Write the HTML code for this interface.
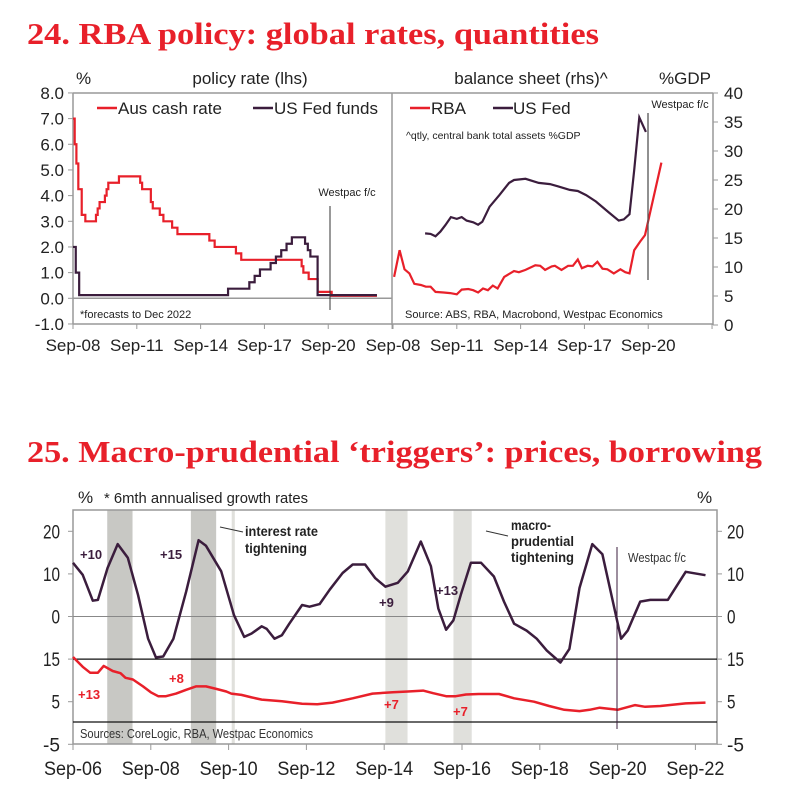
<!DOCTYPE html>
<html><head><meta charset="utf-8"><style>
html,body{margin:0;padding:0;background:#fff;}
svg{display:block;font-family:"Liberation Sans",sans-serif;}
</style></head><body>
<svg id="s" width="786" height="797" viewBox="0 0 786 797">
<text x="27" y="44" font-family="Liberation Serif,serif" font-weight="bold" font-size="31" fill="#e8202a" textLength="572" lengthAdjust="spacingAndGlyphs">24. RBA policy: global rates, quantities</text>
<text x="27" y="462" font-family="Liberation Serif,serif" font-weight="bold" font-size="31" fill="#e8202a" textLength="735" lengthAdjust="spacingAndGlyphs">25. Macro-prudential ‘triggers’: prices, borrowing</text>
<g id="c24"></g>
<g id="c25"></g>
</svg>
<script>
// ---------- Chart 24 data ----------
const cashT=[2008.67,2008.75,2008.83,2008.92,2009.08,2009.25,2009.75,2009.83,2009.92,2010.17,2010.25,2010.33,2010.83,2011.83,2011.92,2012.33,2012.42,2012.75,2012.92,2013.33,2013.58,2015.08,2015.33,2016.33,2016.58,2019.42,2019.5,2019.75,2020.17,2020.83,2022.96];
const cashV=[7.0,6.0,5.25,4.25,3.25,3.0,3.25,3.5,3.75,4.0,4.25,4.5,4.75,4.5,4.25,3.75,3.5,3.25,3.0,2.75,2.5,2.25,2.0,1.75,1.5,1.25,1.0,0.75,0.25,0.1,0.1];
const fedT=[2008.67,2008.8,2008.96,2015.96,2016.96,2017.21,2017.46,2017.96,2018.21,2018.46,2018.71,2018.96,2019.58,2019.71,2019.83,2020.17,2022.96];
const fedV=[2.0,1.0,0.125,0.375,0.625,0.875,1.125,1.375,1.625,1.875,2.125,2.375,2.125,1.875,1.625,0.125,0.125];
const rbaT=[2008.72,2008.98,2009.21,2009.44,2009.67,2009.98,2010.21,2010.44,2010.67,2011.05,2011.36,2011.67,2011.90,2012.21,2012.44,2012.67,2012.90,2013.13,2013.36,2013.59,2013.90,2014.36,2014.59,2014.90,2015.36,2015.59,2015.82,2016.13,2016.28,2016.59,2016.90,2017.13,2017.36,2017.55,2017.82,2018.05,2018.28,2018.52,2018.75,2019.05,2019.36,2019.59,2019.79,2020.01,2020.29,2020.52,2021.29];
const rbaV=[8.3,12.9,9.6,8.9,7.1,6.9,6.6,6.6,5.7,5.6,5.5,5.3,6.1,6.2,6.0,5.6,6.3,6.0,6.8,6.3,8.3,9.3,9.1,9.5,10.3,10.2,9.5,10.1,10.2,9.5,10.2,10.2,11.3,9.8,10.2,10.1,10.9,9.7,9.6,8.9,9.6,9.1,8.9,12.9,14.4,15.5,28];
const usbT=[2010.18,2010.44,2010.67,2010.90,2011.13,2011.39,2011.67,2011.90,2012.13,2012.44,2012.67,2012.87,2013.21,2013.67,2014.13,2014.36,2014.90,2015.52,2016.05,2016.44,2016.98,2017.36,2017.75,2018.21,2018.82,2019.28,2019.52,2019.79,2020.01,2020.25,2020.56];
const usbV=[15.8,15.7,15.3,16.1,17.2,18.6,18.3,18.6,18.0,17.7,17.3,17.8,20.4,22.4,24.5,25.0,25.2,24.5,24.3,23.9,23.3,23.1,22.4,21.3,19.4,18.0,18.2,19.1,26.7,35.8,33.3];
const leftTicks=[8,7,6,5,4,3,2,1,0,-1];
const rightTicks=[40,35,30,25,20,15,10,5,0];
const xLabels24=["Sep-08","Sep-11","Sep-14","Sep-17","Sep-20"];
const xTickYears24=[2008.67,2011.67,2014.67,2017.67,2020.67,2023.67];
// ---------- Chart 25 data ----------
const houseT=[2006.67,2006.92,2007.18,2007.31,2007.56,2007.82,2008.08,2008.34,2008.60,2008.80,2008.99,2009.25,2009.58,2009.90,2010.09,2010.48,2010.81,2011.07,2011.26,2011.52,2011.65,2011.85,2012.04,2012.23,2012.56,2012.75,2013.01,2013.27,2013.60,2013.86,2014.18,2014.44,2014.70,2015.02,2015.28,2015.61,2015.87,2016.06,2016.26,2016.45,2016.64,2016.90,2017.16,2017.49,2017.75,2018.01,2018.33,2018.59,2018.85,2019.20,2019.43,2019.69,2020.02,2020.28,2020.54,2020.76,2020.93,2021.25,2021.51,2021.96,2022.42,2022.93];
const houseV=[12.6,9.8,3.7,3.9,11.4,17.0,13.8,5.1,-5.2,-9.6,-9.4,-5.2,5.9,17.9,16.6,10.6,0.3,-4.8,-4.0,-2.3,-2.9,-5.2,-4.4,-1.7,2.7,2.3,2.9,6.3,10.2,12.2,12.2,9.0,7.0,7.9,10.6,17.6,11.8,1.9,-3.1,-0.9,5.1,12.6,12.6,9.4,3.5,-1.7,-3.3,-5.2,-8.0,-10.8,-7.6,6.7,17.0,14.6,3.9,-5.2,-3.3,3.5,3.9,3.9,10.5,9.7];
const credT=[2006.67,2006.92,2007.11,2007.31,2007.46,2007.69,2007.89,2008.02,2008.21,2008.47,2008.67,2008.86,2009.06,2009.32,2009.58,2009.83,2010.09,2010.35,2010.61,2010.74,2011.00,2011.26,2011.52,2012.04,2012.56,2012.95,2013.34,2013.86,2014.37,2014.89,2015.28,2015.67,2015.93,2016.26,2016.51,2016.77,2017.10,2017.62,2018.01,2018.52,2018.91,2019.30,2019.69,2019.95,2020.21,2020.67,2021.12,2021.38,2021.77,2022.42,2022.93];
const credV=[15.5,13.2,11.8,11.8,13.4,12.2,11.7,10.6,10.2,8.6,7.2,6.3,6.3,6.9,7.8,8.6,8.6,8.0,7.4,6.9,6.6,6.0,5.5,5.1,4.5,4.4,4.8,5.8,6.9,7.2,7.4,7.6,7.0,6.3,6.3,6.7,6.8,6.8,5.8,5.0,4.0,3.1,2.8,3.1,3.6,3.1,4.2,3.8,4.0,4.6,4.8];
const bandStart=[2007.55,2009.7,2010.75,2014.7,2016.45];
const bandEnd=[2008.2,2010.35,2010.83,2015.27,2016.92];
const y25Ticks=[20,10,0,-10,-20,-30];
const y25Labels=["20","10","0","15","5","-5"];
const xLabels25=["Sep-06","Sep-08","Sep-10","Sep-12","Sep-14","Sep-16","Sep-18","Sep-20","Sep-22"];

const NS="http://www.w3.org/2000/svg";
function mk(parent,tag,attrs,text){const e=document.createElementNS(NS,tag);for(const k in attrs)e.setAttribute(k,attrs[k]);if(text!==undefined)e.textContent=text;parent.appendChild(e);return e;}
const RED="#e8202a",PUR="#3b1d3d",GR="#999";

// ===== Chart 24 =====
const g=document.getElementById('c24');
const lx=t=>73+(t-2008.67)*21.27;
const ly=v=>298.3-v*25.67;
const rx=t=>393+(t-2008.67)*21.27;
const ry=v=>325-v*5.8;
// frame
let e;
e=mk(g,'line',{x1:73,y1:93,x2:713,y2:93,stroke:GR,'stroke-width':1.5});
e=mk(g,'line',{x1:73,y1:93,x2:73,y2:324,stroke:GR,'stroke-width':1.5});
e=mk(g,'line',{x1:392,y1:93,x2:392,y2:325,stroke:GR,'stroke-width':1.5});
e=mk(g,'line',{x1:713,y1:93,x2:713,y2:325,stroke:GR,'stroke-width':1.5});
e=mk(g,'line',{x1:73,y1:324,x2:713,y2:324,stroke:GR,'stroke-width':1.5});
e=mk(g,'line',{x1:73,y1:ly(0),x2:392,y2:ly(0),stroke:GR,'stroke-width':1.5});
leftTicks.forEach(v=>{
 e=mk(g,'line',{x1:68,y1:ly(v),x2:73,y2:ly(v),stroke:GR});
 e=mk(g,'text',{x:64,y:ly(v)+6,'text-anchor':'end','font-size':17,fill:'#222'},v.toFixed(1));
});
rightTicks.forEach(v=>{
 e=mk(g,'line',{x1:713,y1:ry(v),x2:718,y2:ry(v),stroke:GR});
 e=mk(g,'text',{x:724,y:ry(v)+6,'font-size':17,fill:'#222'},String(v));
});
xTickYears24.forEach(t=>{
 e=mk(g,'line',{x1:lx(t),y1:324,x2:lx(t),y2:329,stroke:GR});
 e=mk(g,'line',{x1:rx(t),y1:324,x2:rx(t),y2:329,stroke:GR});
});
xLabels24.forEach((s,i)=>{
 e=mk(g,'text',{x:lx(xTickYears24[i]),y:351,'text-anchor':'middle','font-size':17,fill:'#222'},s);
 e=mk(g,'text',{x:rx(xTickYears24[i]),y:351,'text-anchor':'middle','font-size':17,fill:'#222'},s);
});
function stepPath(T,V,fx,fy){let d='M'+fx(T[0])+','+fy(V[0]);for(let i=1;i<T.length;i++){d+=' L'+fx(T[i])+','+fy(V[i-1])+' L'+fx(T[i])+','+fy(V[i]);}return d;}
function linePath(T,V,fx,fy){return T.map((t,i)=>(i?'L':'M')+fx(t).toFixed(1)+','+fy(V[i]).toFixed(1)).join(' ');}
e=mk(g,'path',{d:stepPath(cashT,cashV,lx,ly),fill:'none',stroke:RED,'stroke-width':2.2});
e=mk(g,'path',{d:stepPath(fedT,fedV,lx,ly),fill:'none',stroke:PUR,'stroke-width':2.2});
e=mk(g,'path',{d:linePath(rbaT,rbaV,rx,ry),fill:'none',stroke:RED,'stroke-width':2.2});
e=mk(g,'path',{d:linePath(usbT,usbV,rx,ry),fill:'none',stroke:PUR,'stroke-width':2.2});
e=mk(g,'line',{x1:330,y1:206,x2:330,y2:310,stroke:'#333'});
e=mk(g,'line',{x1:648,y1:113,x2:648,y2:280,stroke:'#555','stroke-width':1.3});
const T24=[["%",76,84,17,"start","percent-unit-left"],["policy rate (lhs)",250,84,17,"middle","policy-rate-header"],["balance sheet (rhs)^",531,84,17,"middle","balance-sheet-header"],["%GDP",685,84,17,"middle","gdp-unit-right"],["Aus cash rate",118,114,17,"start","legend-aus-cash-rate"],["US Fed funds",274,114,17,"start","legend-us-fed-funds"],["RBA",431,114,17,"start","legend-rba"],["US Fed",513,114,17,"start","legend-us-fed"],["^qtly, central bank total assets %GDP",406,139,10.5,"start","balance-note"],["Westpac f/c",347,196,11,"middle","forecast-label-left"],["Westpac f/c",680,108,11,"middle","forecast-label-right"],["*forecasts to Dec 2022",80,318,11,"start","forecast-note"],["Source: ABS, RBA, Macrobond, Westpac Economics",405,318,11,"start","source-note"]];
T24.forEach(a=>{e=mk(g,'text',{x:a[1],y:a[2],'font-size':a[3],'text-anchor':a[4],fill:'#222'},a[0]);});
[[97,117,RED,'legend-swatch-aus'],[253,273,PUR,'legend-swatch-fed'],[410,430,RED,'legend-swatch-rba'],[493,513,PUR,'legend-swatch-usfed']].forEach(a=>{e=mk(g,'line',{x1:a[0],y1:108,x2:a[1],y2:108,stroke:a[2],'stroke-width':2.5});});

// ===== Chart 25 =====
const h=document.getElementById('c25');
const x5=t=>73+(t-2006.67)*38.9;
const y5=v=>616.5-v*4.26;
bandStart.forEach((s,i)=>{
 const dark=i<2;
 e=mk(h,'rect',{x:x5(s),y:510,width:x5(bandEnd[i])-x5(s),height:234,fill:dark?'#c8c8c4':'#e0e0dc'});
});
e=mk(h,'rect',{x:73,y:510,width:644,height:234,fill:'none',stroke:GR,'stroke-width':1.5});
e=mk(h,'line',{x1:73,y1:y5(0),x2:717,y2:y5(0),stroke:'#888'});
e=mk(h,'line',{x1:73,y1:y5(-10),x2:717,y2:y5(-10),stroke:'#111','stroke-width':1.2});
e=mk(h,'line',{x1:73,y1:722,x2:717,y2:722,stroke:'#111','stroke-width':1.2});
y25Ticks.forEach((v,i)=>{
 e=mk(h,'line',{x1:68,y1:y5(v),x2:73,y2:y5(v),stroke:GR});
 e=mk(h,'line',{x1:717,y1:y5(v),x2:722,y2:y5(v),stroke:GR});
 const lab=y25Labels[i];
 e=mk(h,'text',{x:60,y:y5(v)+7,'text-anchor':'end','font-size':19,fill:'#222',textLength:lab.length*8.5,lengthAdjust:'spacingAndGlyphs'},lab);
 e=mk(h,'text',{x:727,y:y5(v)+7,'font-size':19,fill:'#222',textLength:lab.length*8.5,lengthAdjust:'spacingAndGlyphs'},lab);
});
xLabels25.forEach((s,i)=>{
 const t=2006.67+2*i;
 e=mk(h,'line',{x1:x5(t),y1:744,x2:x5(t),y2:750,stroke:GR});
 e=mk(h,'text',{x:x5(t),y:775,'text-anchor':'middle','font-size':19,fill:'#222',textLength:58,lengthAdjust:'spacingAndGlyphs'},s);
});
e=mk(h,'path',{d:linePath(houseT,houseV,x5,y5),fill:'none',stroke:PUR,'stroke-width':2.5,'stroke-linejoin':'round'});
e=mk(h,'path',{d:linePath(credT,credV,x5,v=>y5(v-25)),fill:'none',stroke:RED,'stroke-width':2.5,'stroke-linejoin':'round'});
e=mk(h,'line',{x1:617,y1:547,x2:617,y2:729,stroke:'#3b1d3d'});
e=mk(h,'line',{x1:220,y1:527,x2:243,y2:532,stroke:'#333'});
e=mk(h,'line',{x1:486,y1:531,x2:508,y2:536,stroke:'#333'});
const T25=[["%",78,503,17,'#222','normal',null,"percent-unit-left"],["* 6mth annualised growth rates",104,503,15,'#222','normal',204,"growth-note"],["%",697,503,17,'#222','normal',null,"percent-unit-right"],
["+10",80,559,13,PUR,'bold',null,"label-plus10"],["+15",160,559,13,PUR,'bold',null,"label-plus15"],["interest rate",245,536,14,'#222','bold',73,"interest-rate-label"],["tightening",245,553,14,'#222','bold',62,"interest-tightening-label"],
["+9",379,607,13,PUR,'bold',null,"label-plus9"],["+13",436,595,13,PUR,'bold',null,"label-plus13"],["macro-",511,530,14,'#222','bold',40,"macro-label"],["prudential",511,546,14,'#222','bold',63,"prudential-label"],["tightening",511,562,14,'#222','bold',63,"macro-tightening-label"],
["Westpac f/c",628,562,13,'#333','normal',58,"forecast-label"],["+13",78,699,13,RED,'bold',null,"label-red-plus13"],["+8",169,683,13,RED,'bold',null,"label-red-plus8"],["+7",384,709,13,RED,'bold',null,"label-red-plus7a"],["+7",453,716,13,RED,'bold',null,"label-red-plus7b"],
["Sources: CoreLogic, RBA, Westpac Economics",80,738,13,'#333','normal',233,"source-note"]];
T25.forEach(a=>{const at={x:a[1],y:a[2],'font-size':a[3],fill:a[4],'font-weight':a[5]};if(a[6]){at.textLength=a[6];at.lengthAdjust='spacingAndGlyphs';}e=mk(h,'text',at,a[0]);});
</script>
</body></html>
